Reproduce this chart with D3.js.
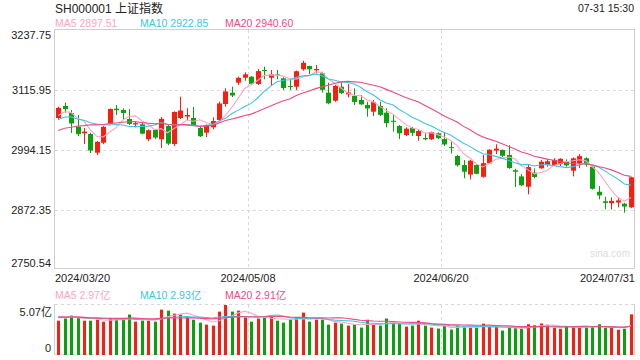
<!DOCTYPE html>
<html><head><meta charset="utf-8">
<script src="https://cdn.jsdelivr.net/npm/d3@7"></script>
<style>body{margin:0;background:#fff;} svg{display:block;font-family:"Liberation Sans",Arial,"Noto Sans CJK SC",sans-serif;}</style>
</head><body><svg id="c" width="640" height="360"></svg>
<script>
const title = "SH000001 上证指数";
const timeStamp = "07-31 15:30";
const dates = ["2024/03/20","2024/03/21","2024/03/22","2024/03/25","2024/03/26","2024/03/27","2024/03/28","2024/03/29",
"2024/04/01","2024/04/02","2024/04/03","2024/04/08","2024/04/09","2024/04/10","2024/04/11","2024/04/12","2024/04/15","2024/04/16","2024/04/17","2024/04/18","2024/04/19","2024/04/22","2024/04/23","2024/04/24","2024/04/25","2024/04/26","2024/04/29","2024/04/30",
"2024/05/06","2024/05/07","2024/05/08","2024/05/09","2024/05/10","2024/05/13","2024/05/14","2024/05/15","2024/05/16","2024/05/17","2024/05/20","2024/05/21","2024/05/22","2024/05/23","2024/05/24","2024/05/27","2024/05/28","2024/05/29","2024/05/30","2024/05/31",
"2024/06/03","2024/06/04","2024/06/05","2024/06/06","2024/06/07","2024/06/11","2024/06/12","2024/06/13","2024/06/14","2024/06/17","2024/06/18","2024/06/19","2024/06/20","2024/06/21","2024/06/24","2024/06/25","2024/06/26","2024/06/27","2024/06/28",
"2024/07/01","2024/07/02","2024/07/03","2024/07/04","2024/07/05","2024/07/08","2024/07/09","2024/07/10","2024/07/11","2024/07/12","2024/07/15","2024/07/16","2024/07/17","2024/07/18","2024/07/19","2024/07/22","2024/07/23","2024/07/24","2024/07/25","2024/07/26","2024/07/29","2024/07/30","2024/07/31"];
const opens = [3059.1,3083.5,3069.3,3041.4,3028.0,3026.6,2988.7,3009.0,3048.3,3078.0,3075.4,3057.1,3046.0,3046.3,3015.9,3034.8,3015.9,3042.9,3006.3,3059.1,3062.0,3059.1,3038.8,3029.3,3040.2,3055.1,3087.5,3110.5,3130.8,3140.9,3143.0,3128.1,3156.5,3140.9,3147.5,3139.7,3124.0,3122.6,3158.0,3164.7,3156.0,3149.8,3110.5,3094.2,3122.6,3107.0,3103.8,3095.7,3085.5,3071.9,3083.5,3069.9,3053.5,3042.9,3024.6,3038.8,3022.6,3018.5,3015.9,3028.0,3016.4,3000.0,2982.0,2963.7,2944.3,2963.7,2939.8,2967.1,2993.0,2994.2,2984.1,2953.0,2940.6,2919.6,2948.2,2957.0,2963.7,2963.7,2965.7,2970.4,2952.1,2967.1,2977.4,2960.3,2909.4,2890.0,2886.0,2887.5,2885.2,2877.8];
const highs = [3082.0,3090.2,3075.4,3065.2,3038.8,3029.3,3012.4,3042.9,3078.5,3085.5,3078.8,3077.4,3053.0,3051.0,3036.0,3037.0,3061.1,3046.9,3072.5,3102.3,3078.8,3081.4,3040.9,3046.0,3060.5,3092.2,3119.4,3122.6,3143.0,3151.9,3144.0,3158.8,3163.3,3156.5,3156.5,3141.7,3136.0,3155.5,3175.5,3165.5,3166.7,3153.1,3130.8,3126.0,3131.6,3128.1,3119.4,3105.8,3092.2,3095.7,3092.2,3078.8,3065.2,3045.0,3040.2,3040.9,3034.7,3028.0,3031.5,3030.0,3030.0,3011.0,2984.1,2973.9,2974.0,2965.0,2984.1,2995.5,3005.6,2995.5,3003.8,2956.0,2945.2,2963.7,2957.0,2973.9,2975.3,2977.4,2977.4,2975.3,2979.0,2986.2,2979.4,2961.7,2921.0,2899.3,2898.0,2898.0,2887.0,2940.0];
const lows = [3055.0,3069.9,3028.7,3022.5,3006.3,2988.0,2984.0,3006.0,3046.9,3065.2,3056.5,3044.9,3040.0,3026.0,3012.0,3016.5,2998.2,3004.0,3002.0,3057.0,3055.0,3043.0,3020.5,3020.5,3036.2,3051.6,3082.0,3101.7,3126.1,3134.8,3126.0,3126.0,3137.7,3126.0,3137.7,3115.9,3116.0,3116.0,3155.0,3148.4,3149.8,3110.5,3087.0,3092.0,3108.0,3101.1,3085.5,3085.5,3061.7,3063.2,3063.2,3040.2,3031.3,3016.4,3022.5,3022.5,3013.0,3014.0,3014.5,3016.0,3002.2,2987.0,2960.3,2936.7,2934.2,2945.0,2938.0,2965.7,2986.0,2980.0,2956.0,2919.0,2921.0,2904.2,2936.7,2956.0,2960.3,2963.0,2961.7,2960.3,2940.6,2957.0,2960.3,2914.0,2894.0,2873.8,2873.8,2877.9,2866.9,2876.0];
const closes = [3079.69,3077.11,3048.03,3026.31,3031.48,2993.14,3010.66,3041.17,3077.38,3074.96,3069.30,3047.05,3048.54,3027.40,3034.25,3019.47,3057.38,3007.07,3071.38,3074.22,3065.26,3044.60,3021.98,3044.82,3052.90,3088.64,3113.04,3104.82,3140.72,3147.74,3128.48,3154.32,3154.55,3148.02,3145.77,3119.90,3122.40,3154.03,3171.15,3157.97,3158.54,3116.39,3088.87,3124.04,3109.57,3111.02,3091.68,3086.81,3078.49,3091.20,3065.40,3048.79,3051.28,3028.05,3037.47,3028.92,3032.63,3015.89,3030.25,3018.05,3005.44,2998.14,2963.10,2950.00,2972.53,2945.85,2967.40,2994.73,2997.01,2982.38,2957.57,2949.93,2922.45,2959.37,2939.36,2970.39,2971.30,2974.01,2976.30,2962.85,2977.13,2981.71,2964.80,2915.37,2901.95,2886.74,2890.90,2891.85,2879.30,2938.75];
const volumes = [3.48,3.70,4.00,3.82,3.48,3.48,3.58,3.38,3.76,3.58,3.58,4.10,3.38,3.48,3.48,3.38,4.60,4.50,4.20,4.10,3.80,3.58,3.28,3.08,2.98,4.40,5.07,4.40,4.50,3.80,3.38,3.70,3.80,4.00,3.48,3.28,3.58,3.80,4.30,3.38,3.58,3.58,3.08,3.28,3.18,2.98,3.08,2.78,3.58,3.08,2.98,3.70,3.18,3.18,2.88,2.98,3.48,2.98,2.78,2.68,2.98,2.58,2.98,2.88,2.78,2.78,3.18,2.88,2.88,2.48,2.76,2.76,2.66,3.12,3.02,3.20,3.07,2.76,2.66,2.89,2.80,2.92,2.80,2.82,3.12,2.76,2.76,2.56,2.66,4.12];
// closes / volumes of the 19 sessions before the first shown day (for moving averages)
const prevCloses = [2988.36,3004.88,2977.02,3015.48,2957.85,3015.17,3027.02,3039.31,3047.79,3039.93,3027.40,3046.02,3068.46,3055.94,3043.83,3038.23,3054.64,3084.93,3062.76];
const prevVolumes = [4.12,3.95,3.48,4.41,4.63,4.05,3.62,3.71,3.83,3.66,3.52,3.48,4.18,3.90,3.61,3.57,3.82,4.35,3.96];
const yTicks = [3237.75,3115.95,2994.15,2872.35,2750.54];
const xTickLabels = ["2024/03/20","2024/05/08","2024/06/20","2024/07/31"];
const maPeriods = [5,10,20];
const maColors = ["#ffa3c4","#3ec3e6","#ee4b82"];
const upColor = "#fb1d10", downColor = "#0aa10c";
const gridColor = "#d9d9d9", borderColor = "#cfcfcf", textColor = "#222";

const svg = d3.select("#c");
const L = 55, R = 634;
const data = dates.map((d,i)=>({d, o:opens[i], h:highs[i], l:lows[i], c:closes[i], v:volumes[i], i}));

const x = d3.scaleBand().domain(dates).range([L, R]);
const bw = x.bandwidth();
const cx = d => Math.round(x(d) + bw/2);
const y = d3.scaleLinear().domain([yTicks[4], yTicks[0]]).range([270, 30]);
const vmax = d3.max(volumes);
const vy = d3.scaleLinear().domain([0, vmax]).range([355, 305]);

function ma(series, prev, n){
  const all = prev.concat(series);
  return series.map((_,i)=>{ const k=i+prev.length; return d3.mean(all.slice(k-n+1,k+1)); });
}
const priceMA = maPeriods.map(n=>ma(closes, prevCloses, n));
const volMA = maPeriods.map(n=>ma(volumes, prevVolumes, n));

// Header
svg.append("text").attr("x",55).attr("y",13).attr("font-size",12).attr("fill",textColor).text(title);
svg.append("text").attr("x",634).attr("y",12).attr("font-size",10.5).attr("fill",textColor).attr("text-anchor","end").text(timeStamp);
const legX = [55,140,225];
maPeriods.forEach((n,k)=>{
  svg.append("text").attr("x",legX[k]).attr("y",27).attr("font-size",10.5).attr("fill",maColors[k])
    .text(`MA${n} ${priceMA[k][priceMA[k].length-1].toFixed(2)}`);
  svg.append("text").attr("x",legX[k]).attr("y",299).attr("font-size",10.5).attr("fill",maColors[k])
    .text(`MA${n} ${volMA[k][volMA[k].length-1].toFixed(2)}亿`);
});

// Main grid
const g = svg.append("g");
yTicks.slice(1,4).forEach(t=>{
  const yy = Math.round(y(t))+0.5;
  g.append("line").attr("x1",L).attr("x2",R).attr("y1",yy).attr("y2",yy)
    .attr("stroke",gridColor).attr("stroke-dasharray","3,3");
});
xTickLabels.slice(1,3).forEach(t=>{
  const xx = Math.round(x(t))+0.5;
  g.append("line").attr("x1",xx).attr("x2",xx).attr("y1",30).attr("y2",268)
    .attr("stroke",gridColor).attr("stroke-dasharray","3,3");
  g.append("line").attr("x1",xx).attr("x2",xx).attr("y1",305).attr("y2",354)
    .attr("stroke",gridColor).attr("stroke-dasharray","3,3");
});
g.append("rect").attr("x",54.5).attr("y",29.5).attr("width",580).attr("height",239)
  .attr("fill","none").attr("stroke",borderColor);

// Y labels
yTicks.forEach((t,k)=>{
  let yy = y(t)+4;
  if(k===0) yy = y(t)+8.5;
  if(k===yTicks.length-1) yy = y(t)-3.5;
  svg.append("text").attr("x",51).attr("y",yy).attr("text-anchor","end").attr("font-size",11)
    .attr("fill",textColor).text(t.toFixed(2));
});
// X labels
xTickLabels.forEach((t,k)=>{
  let xx = x(t), anchor="middle";
  if(k===0){ xx = L; anchor="start"; }
  else if(k===xTickLabels.length-1){ xx = R+1; anchor="end"; }
  svg.append("text").attr("x",xx).attr("y",282).attr("text-anchor",anchor).attr("font-size",11)
    .attr("fill",textColor).text(t);
});

// watermark
svg.append("text").attr("x",630).attr("y",257).attr("text-anchor","end").attr("font-size",10)
  .attr("fill","#dcdcdc").text("sina.com");

// Candles
const cg = svg.append("g");
data.forEach(p=>{
  const col = p.c >= p.o ? upColor : downColor;
  const xc = cx(p.d);
  cg.append("line").attr("x1",xc+0.5).attr("x2",xc+0.5).attr("y1",y(p.h)).attr("y2",y(p.l))
    .attr("stroke",col).attr("stroke-width",1);
  const top = y(Math.max(p.o,p.c)), bot = y(Math.min(p.o,p.c));
  cg.append("rect").attr("x",xc-2).attr("width",5).attr("y",top).attr("height",Math.max(1,bot-top))
    .attr("fill",col);
});

// MA lines main
maPeriods.forEach((n,k)=>{
  const line = d3.line().x((_,i)=>x(dates[i])+bw/2).y(v=>y(v));
  svg.append("path").attr("d",line(priceMA[k])).attr("fill","none").attr("stroke",maColors[k]).attr("stroke-width",1.1);
});

// Volume panel
svg.append("line").attr("x1",L).attr("x2",R).attr("y1",304.5).attr("y2",304.5).attr("stroke",gridColor).attr("stroke-dasharray","3,3");
svg.append("line").attr("x1",L).attr("x2",R).attr("y1",354.5).attr("y2",354.5).attr("stroke",gridColor).attr("stroke-dasharray","3,3");
svg.append("line").attr("x1",54.5).attr("x2",54.5).attr("y1",304).attr("y2",355).attr("stroke",borderColor);
svg.append("line").attr("x1",634.5).attr("x2",634.5).attr("y1",304).attr("y2",355).attr("stroke",borderColor);
const vg = svg.append("g");
data.forEach(p=>{
  const col = p.c >= p.o ? upColor : downColor;
  const xc = cx(p.d);
  vg.append("rect").attr("x",xc-1).attr("width",3).attr("y",vy(p.v)).attr("height",vy(0)-vy(p.v)).attr("fill",col);
});
maPeriods.forEach((n,k)=>{
  const line = d3.line().x((_,i)=>x(dates[i])+bw/2).y(v=>vy(v));
  svg.append("path").attr("d",line(volMA[k])).attr("fill","none").attr("stroke",maColors[k]).attr("stroke-width",1.1);
});
svg.append("text").attr("x",52).attr("y",315.5).attr("text-anchor","end").attr("font-size",11).attr("fill",textColor).text(vmax.toFixed(2)+"亿");
svg.append("text").attr("x",51).attr("y",352).attr("text-anchor","end").attr("font-size",11).attr("fill",textColor).text("0");
</script>
</body></html>
